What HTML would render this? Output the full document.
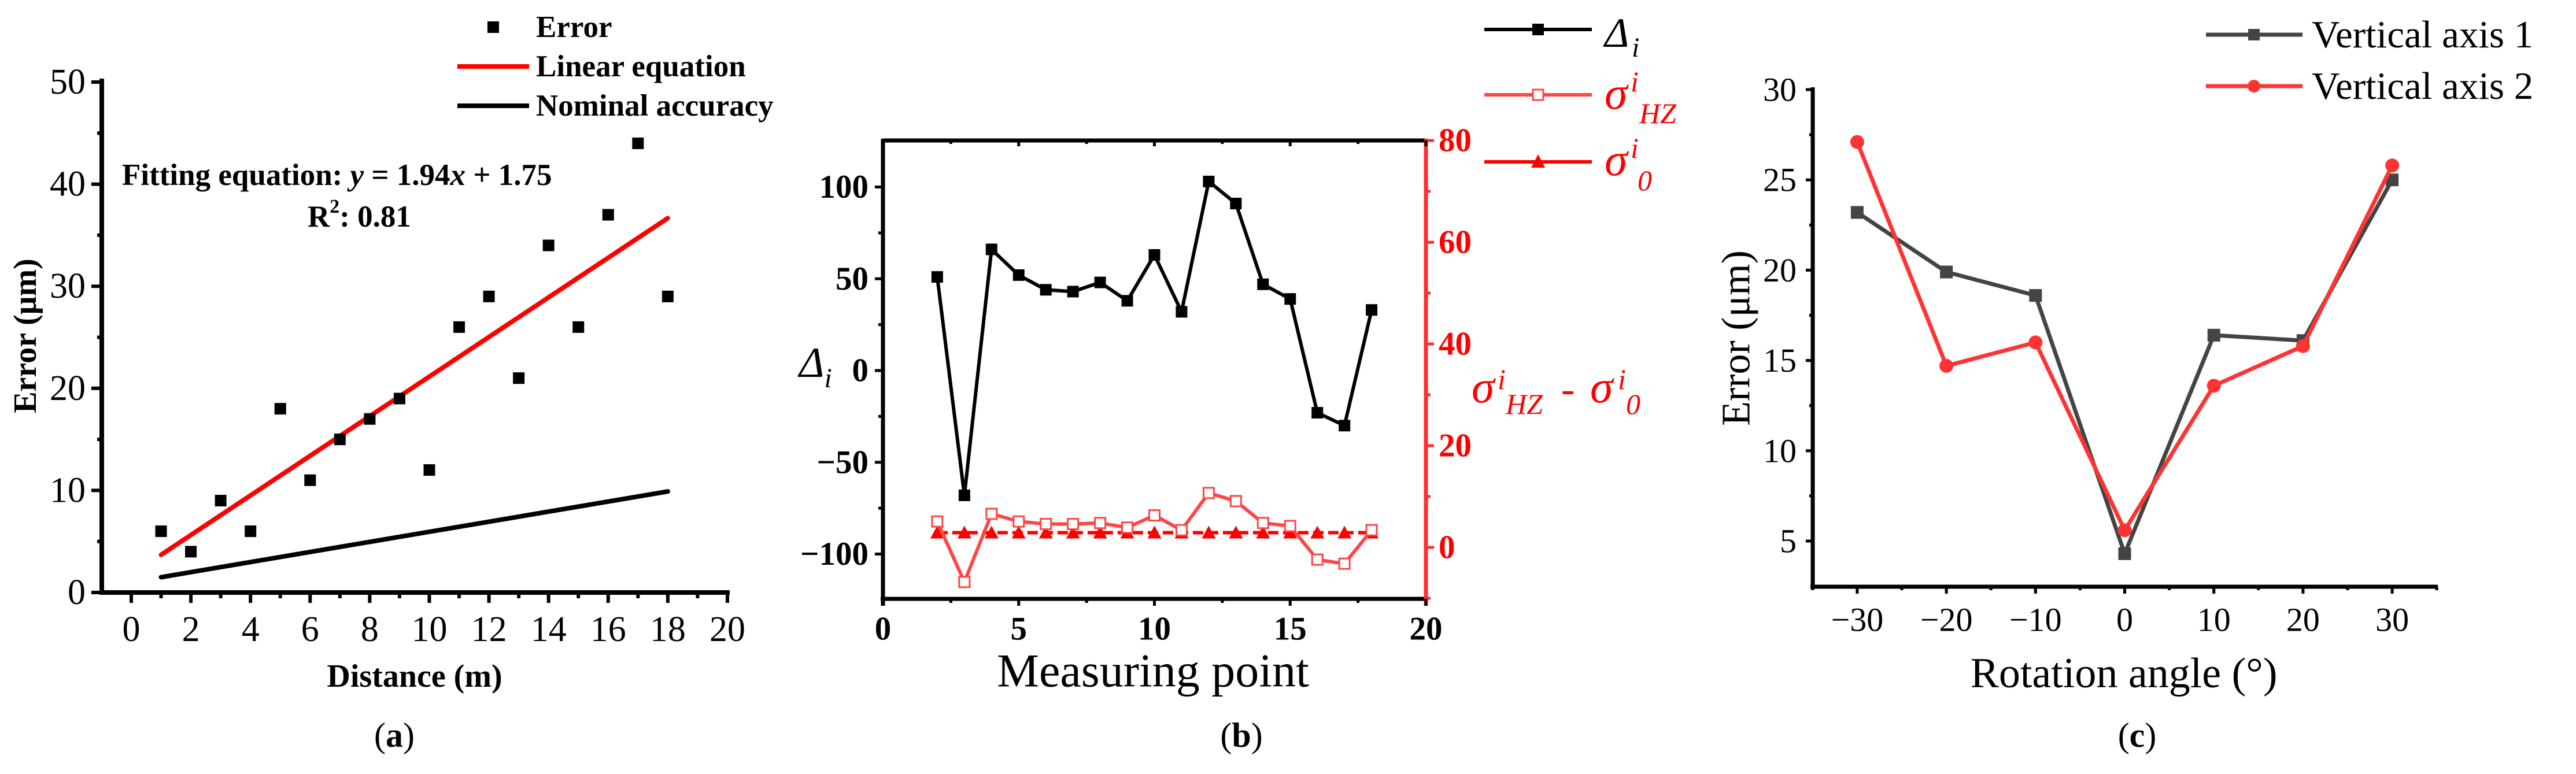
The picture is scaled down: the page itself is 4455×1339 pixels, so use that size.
<!DOCTYPE html>
<html><head><meta charset="utf-8"><style>
html,body{margin:0;padding:0;background:#fff}
svg{display:block}
text{font-family:"Liberation Serif",serif}
</style></head><body>
<svg id="fig" xmlns="http://www.w3.org/2000/svg" width="4455" height="1339" viewBox="0 0 4455 1339">
<rect x="0" y="0" width="4455" height="1339" fill="#fff"/>
<g id="pa"></g>
<g id="pb"></g>
<g id="pc"></g>

<!-- panel a static text -->
<text x="44" y="581" font-size="56" font-weight="bold" text-anchor="middle" dominant-baseline="central" transform="rotate(-90 44 581)">Error (μm)</text>
<text x="717" y="1170" font-size="56" font-weight="bold" text-anchor="middle" dominant-baseline="central">Distance (m)</text>
<text x="682" y="1272" font-size="60" text-anchor="middle" dominant-baseline="central">(<tspan font-weight="bold">a</tspan>)</text>
<text x="211" y="303" font-size="53" font-weight="bold" dominant-baseline="central">Fitting equation: <tspan font-style="italic">y</tspan> = 1.94<tspan font-style="italic">x</tspan> + 1.75</text>
<text x="532" y="375" font-size="53" font-weight="bold" dominant-baseline="central">R<tspan font-size="34" dy="-18">2</tspan><tspan dy="18">:  0.81</tspan></text>
<g>
<rect x="843" y="37" width="20" height="20" fill="#000"/>
<text x="927" y="47" font-size="53" font-weight="bold" dominant-baseline="central">Error</text>
<line x1="791" y1="115" x2="915" y2="115" stroke="#f00" stroke-width="8"/>
<text x="927" y="115" font-size="53" font-weight="bold" dominant-baseline="central">Linear equation</text>
<line x1="791" y1="183" x2="915" y2="183" stroke="#000" stroke-width="8"/>
<text x="927" y="183" font-size="53" font-weight="bold" dominant-baseline="central">Nominal accuracy</text>
</g>

<!-- panel b static text -->
<text x="1382" y="652" font-size="74" font-style="italic">Δ<tspan font-size="48" dy="18">i</tspan></text>
<g fill="#f00" font-style="italic">
<text x="2545" y="696" font-size="80">σ</text>
<text x="2590" y="673" font-size="50">i</text>
<text x="2604" y="716" font-size="50">HZ</text>
<text x="2700" y="696" font-size="70" font-style="normal">-</text>
<text x="2750" y="696" font-size="80">σ</text>
<text x="2798" y="673" font-size="50">i</text>
<text x="2812" y="716" font-size="50">0</text>
</g>
<text x="1994" y="1160" font-size="82" text-anchor="middle" dominant-baseline="central">Measuring point</text>
<text x="2147" y="1272" font-size="60" text-anchor="middle" dominant-baseline="central">(<tspan font-weight="bold">b</tspan>)</text>
<g>
<line x1="2567" y1="51" x2="2753" y2="51" stroke="#000" stroke-width="6"/>
<rect x="2650" y="41" width="20" height="20" fill="#000"/>
<text x="2775" y="81" font-size="72" font-style="italic">Δ</text>
<text x="2822" y="98" font-size="48" font-style="italic">i</text>
<line x1="2567" y1="164" x2="2753" y2="164" stroke="#ff4646" stroke-width="6"/>
<rect x="2651" y="155" width="18" height="18" fill="#fff" stroke="#ff4646" stroke-width="3"/>
<text x="2775" y="188" font-size="80" font-style="italic" fill="#f00">σ</text>
<text x="2820" y="158" font-size="50" font-style="italic" fill="#f00">i</text>
<text x="2835" y="213" font-size="50" font-style="italic" fill="#f00">HZ</text>
<line x1="2567" y1="280" x2="2753" y2="280" stroke="#f00" stroke-width="6"/>
<polygon points="2660,267 2672,290 2648,290" fill="#f00"/>
<text x="2775" y="303" font-size="80" font-style="italic" fill="#f00">σ</text>
<text x="2820" y="273" font-size="50" font-style="italic" fill="#f00">i</text>
<text x="2832" y="329" font-size="50" font-style="italic" fill="#f00">0</text>
</g>

<!-- panel c static text -->
<text x="3003" y="585" font-size="70" text-anchor="middle" dominant-baseline="central" transform="rotate(-90 3003 585)">Error (μm)</text>
<text x="3673" y="1165" font-size="74" text-anchor="middle" dominant-baseline="central">Rotation angle (°)</text>
<text x="3696" y="1272" font-size="60" text-anchor="middle" dominant-baseline="central">(<tspan font-weight="bold">c</tspan>)</text>
<g>
<line x1="3815" y1="60" x2="3982" y2="60" stroke="#444" stroke-width="7"/>
<rect x="3888" y="50" width="20" height="20" fill="#444"/>
<text x="3998" y="60" font-size="67" dominant-baseline="central">Vertical axis 1</text>
<line x1="3815" y1="149" x2="3982" y2="149" stroke="#ff3333" stroke-width="7"/>
<circle cx="3898" cy="149" r="11" fill="#ff3333"/>
<text x="3998" y="149" font-size="67" dominant-baseline="central">Vertical axis 2</text>
</g>
</svg>
<script>
// ---------- Panel (a) data ----------
const aDistance = [1,2,3,4,5,6,7,8,9,10,11,12,13,14,15,16,17,18];
const aError = [6,4,9,6,18,11,15,17,19,12,26,29,21,34,26,37,44,29];
const aFitSlope = 1.94;
const aFitIntercept = 1.75;
const aNominalX = [1,18];
const aNominalY = [1.5,9.9];
const aYTicks = [0,10,20,30,40,50];
const aXTicks = [0,2,4,6,8,10,12,14,16,18,20];
// ---------- Panel (b) data ----------
const bPoints = [2,3,4,5,6,7,8,9,10,11,12,13,14,15,16,17,18];
const bDelta = [51,-68,66,52,44,43,48,38,63,32,103,91,47,39,-23,-30,33];
const bSigmaHZ = [5.1,-6.8,6.6,5.1,4.6,4.6,4.8,3.9,6.3,3.4,10.7,9.1,4.8,4.2,-2.4,-3.2,3.4];
const bSigma0 = [2.9,2.9,2.9,2.9,2.9,2.9,2.9,2.9,2.9,2.9,2.9,2.9,2.9,2.9,2.9,2.9,2.9];
const bXTicks = [0,5,10,15,20];
const bLeftTicks = [-100,-50,0,50,100];
const bRightTicks = [0,20,40,60,80];
// ---------- Panel (c) data ----------
const cAngles = [-30,-20,-10,0,10,20,30];
const cAxis1 = [23.2,19.9,18.6,4.3,16.4,16.1,25.0];
const cAxis2 = [27.1,14.7,16.0,5.6,13.6,15.8,25.8];
const cYTicks = [5,10,15,20,25,30];
const cXTicks = [-30,-20,-10,0,10,20,30];

const NS = 'http://www.w3.org/2000/svg';
function mk(parent, tag, attrs, name) {
  const el = document.createElementNS(NS, tag);
  for (const k in attrs) el.setAttribute(k, attrs[k]);
  
  
  parent.appendChild(el);
  return el;
}
function txt(parent, x, y, s, size, extra, name) {
  const el = mk(parent, 'text', Object.assign({x:x, y:y, 'font-size':size, 'dominant-baseline':'central'}, extra), name);
  el.textContent = s;
  return el;
}

// ===== Panel a =====
const pa = document.getElementById('pa');
const ax = v => 227 + v * 51.55;
const ay = v => 1025 - v * 17.66;
// axes
mk(pa, 'line', {x1:176, y1:ay(0), x2:1262, y2:ay(0), stroke:'#000', 'stroke-width':8}, 'a-x-axis');
mk(pa, 'line', {x1:176, y1:136, x2:176, y2:ay(0)+4, stroke:'#000', 'stroke-width':8}, 'a-y-axis');
for (let v = 0; v <= 50; v += 5) {
  const major = v % 10 === 0;
  mk(pa, 'line', {x1:176, y1:ay(v), x2:major ? 158 : 168, y2:ay(v), stroke:'#000', 'stroke-width':6}, 'a-y-tick');
}
aYTicks.forEach(v => {
  txt(pa, 148, ay(v), String(v), 62, {'text-anchor':'end'}, 'a-y-tick-label');
});
for (let v = 0; v <= 20; v += 1) {
  const major = v % 2 === 0;
  mk(pa, 'line', {x1:ax(v), y1:ay(0), x2:ax(v), y2:ay(0) + (major ? 18 : 10), stroke:'#000', 'stroke-width':6}, 'a-x-tick');
}
aXTicks.forEach(v => {
  txt(pa, ax(v), 1089, String(v), 62, {'text-anchor':'middle'}, 'a-x-tick-label');
});
// lines
mk(pa, 'line', {x1:ax(aNominalX[0]), y1:ay(aNominalY[0]), x2:ax(aNominalX[1]), y2:ay(aNominalY[1]), stroke:'#000', 'stroke-width':8, 'stroke-linecap':'round'}, 'nominal-accuracy-line');
const fx0 = aDistance[0], fx1 = aDistance[aDistance.length - 1];
mk(pa, 'line', {x1:ax(fx0), y1:ay(aFitSlope*fx0+aFitIntercept), x2:ax(fx1), y2:ay(aFitSlope*fx1+aFitIntercept), stroke:'#f00', 'stroke-width':8, 'stroke-linecap':'round'}, 'linear-fit-line');
aDistance.forEach((d, i) => {
  mk(pa, 'rect', {x:ax(d)-10, y:ay(aError[i])-10, width:20, height:20, fill:'#000'}, 'error-point');
});

// ===== Panel b =====
const pb = document.getElementById('pb');
const bx = v => 1527 + v * 46.95;
const byL = v => 641 - v * 3.175;
const byR = v => 947 - v * 8.8;
const bTop = 243, bBot = 1036, bLeft = 1527, bRight = 2466;
mk(pb, 'line', {x1:bLeft, y1:bTop, x2:bRight, y2:bTop, stroke:'#000', 'stroke-width':7}, 'b-top-border');
mk(pb, 'line', {x1:bLeft-4, y1:bBot, x2:bRight, y2:bBot, stroke:'#000', 'stroke-width':7}, 'b-x-axis');
mk(pb, 'line', {x1:bLeft, y1:bTop-3, x2:bLeft, y2:bBot+12, stroke:'#000', 'stroke-width':7}, 'b-left-axis');
mk(pb, 'line', {x1:bRight, y1:bTop-3, x2:bRight, y2:bBot+12, stroke:'#ff3030', 'stroke-width':7}, 'b-right-axis');
for (let v = -125; v <= 125; v += 25) {
  if (v === -125 || v === 125) continue;
  const major = v % 50 === 0;
  mk(pb, 'line', {x1:bLeft, y1:byL(v), x2:bLeft - (major ? 14 : 8), y2:byL(v), stroke:'#000', 'stroke-width':5}, 'b-left-tick');
}
bLeftTicks.forEach(v => {
  txt(pb, 1502, byL(v), v < 0 ? '−' + Math.abs(v) : String(v), 57, {'text-anchor':'end', 'font-weight':'bold'}, 'b-left-tick-label');
});
for (let v = -10; v <= 80; v += 10) {
  const major = v % 20 === 0;
  mk(pb, 'line', {x1:bRight, y1:byR(v), x2:bRight + (major ? 14 : 8), y2:byR(v), stroke:'#ff3030', 'stroke-width':5}, 'b-right-tick');
}
bRightTicks.forEach(v => {
  txt(pb, 2488, byR(v), String(v), 57, {'text-anchor':'start', 'font-weight':'bold', fill:'#f00'}, 'b-right-tick-label');
});
for (let v = 0; v <= 20; v += 2.5) {
  const major = v % 5 === 0;
  mk(pb, 'line', {x1:bx(v), y1:bBot, x2:bx(v), y2:bBot + (major ? 12 : 7), stroke:'#000', 'stroke-width':5}, 'b-x-tick');
  mk(pb, 'line', {x1:bx(v), y1:bTop, x2:bx(v), y2:bTop + (major ? 10 : 6), stroke:'#000', 'stroke-width':5}, 'b-top-tick');
}
bXTicks.forEach(v => {
  txt(pb, bx(v), 1088, String(v), 57, {'text-anchor':'middle', 'font-weight':'bold'}, 'b-x-tick-label');
});
// sigma0 series (dashed)
mk(pb, 'polyline', {points:bPoints.map((p,i)=>bx(p)+','+byR(bSigma0[i])).join(' '), fill:'none', stroke:'#f00', 'stroke-width':6, 'stroke-dasharray':'18 8'}, 'sigma0-line');
bPoints.forEach((p,i) => {
  const x = bx(p), y = byR(bSigma0[i]);
  mk(pb, 'polygon', {points:(x)+','+(y-12)+' '+(x+12)+','+(y+10)+' '+(x-12)+','+(y+10), fill:'#f00'}, 'sigma0-point');
});
// sigmaHZ series
mk(pb, 'polyline', {points:bPoints.map((p,i)=>bx(p)+','+byR(bSigmaHZ[i])).join(' '), fill:'none', stroke:'#ff4646', 'stroke-width':6}, 'sigmahz-line');
bPoints.forEach((p,i) => {
  mk(pb, 'rect', {x:bx(p)-9, y:byR(bSigmaHZ[i])-9, width:18, height:18, fill:'#fff', stroke:'#ff4646', 'stroke-width':3}, 'sigmahz-point');
});
// delta series
mk(pb, 'polyline', {points:bPoints.map((p,i)=>bx(p)+','+byL(bDelta[i])).join(' '), fill:'none', stroke:'#000', 'stroke-width':6}, 'delta-line');
bPoints.forEach((p,i) => {
  mk(pb, 'rect', {x:bx(p)-10, y:byL(bDelta[i])-10, width:20, height:20, fill:'#000'}, 'delta-point');
});

// ===== Panel c =====
const pc = document.getElementById('pc');
const cx = v => 3674.5 + v * 15.42;
const cy = v => 936 - (v - 5) * 31.24;
const cLeft = 3135, cBot = 1015, cRight = 4216;
mk(pc, 'line', {x1:cLeft-4, y1:cBot, x2:cRight, y2:cBot, stroke:'#000', 'stroke-width':7}, 'c-x-axis');
mk(pc, 'line', {x1:cLeft, y1:cy(30)-4, x2:cLeft, y2:cBot+4, stroke:'#000', 'stroke-width':7}, 'c-y-axis');
for (let v = 5; v <= 30; v += 2.5) {
  const major = v % 5 === 0;
  mk(pc, 'line', {x1:cLeft, y1:cy(v), x2:cLeft - (major ? 12 : 6), y2:cy(v), stroke:'#000', 'stroke-width':5}, 'c-y-tick');
}
cYTicks.forEach(v => {
  txt(pc, 3107, cy(v), String(v), 58, {'text-anchor':'end'}, 'c-y-tick-label');
});
for (let v = -35; v <= 35; v += 5) {
  const major = v % 10 === 0;
  mk(pc, 'line', {x1:cx(v), y1:cBot, x2:cx(v), y2:cBot + (major ? 12 : 6), stroke:'#000', 'stroke-width':5}, 'c-x-tick');
}
cXTicks.forEach(v => {
  txt(pc, cx(v), 1072, v < 0 ? '−' + Math.abs(v) : String(v), 58, {'text-anchor':'middle'}, 'c-x-tick-label');
});
mk(pc, 'polyline', {points:cAngles.map((a,i)=>cx(a)+','+cy(cAxis1[i])).join(' '), fill:'none', stroke:'#444', 'stroke-width':7, 'stroke-linejoin':'round'}, 'vertical-axis-1-line');
cAngles.forEach((a,i) => {
  mk(pc, 'rect', {x:cx(a)-11, y:cy(cAxis1[i])-11, width:22, height:22, fill:'#444'}, 'vertical-axis-1-point');
});
mk(pc, 'polyline', {points:cAngles.map((a,i)=>cx(a)+','+cy(cAxis2[i])).join(' '), fill:'none', stroke:'#ff3333', 'stroke-width':7, 'stroke-linejoin':'round'}, 'vertical-axis-2-line');
cAngles.forEach((a,i) => {
  mk(pc, 'circle', {cx:cx(a), cy:cy(cAxis2[i]), r:12, fill:'#ff3333'}, 'vertical-axis-2-point');
});
</script>
</body></html>
